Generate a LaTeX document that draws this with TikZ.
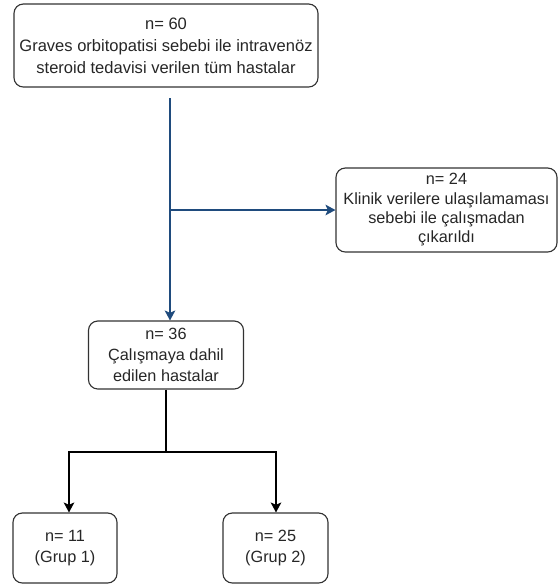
\documentclass[tikz,border=0pt]{standalone}
\usepackage{fontspec}
\setmainfont{Liberation Sans}
\usetikzlibrary{arrows.meta}
\definecolor{flowblue}{RGB}{31,75,125}
\definecolor{boxgray}{RGB}{50,50,50}
\begin{document}
\begin{tikzpicture}[x=0.75pt,y=-0.75pt,
  box/.style={draw=boxgray,line width=0.85pt,rounded corners=7pt,align=center,
    inner sep=0pt,font=\fontsize{12.2}{15.5}\selectfont,text=black!85},
  bluearrow/.style={draw=flowblue,line width=1pt,-{Stealth[width=8pt,length=7.5pt,inset=1.8pt]}},
  blackarrow/.style={draw=black,line width=0.9pt,-{Stealth[width=8pt,length=7.5pt,inset=1.8pt]}},
  blacklink/.style={draw=black,line width=0.9pt}]
\useasboundingbox (0,0) rectangle (558,587);
\node[box,minimum width=304*0.75pt,minimum height=83*0.75pt,font=\fontsize{12.4}{16.5}\selectfont] (top) at (166,45.5)
  {n= 60\\Graves orbitopatisi sebebi ile intravenöz\\steroid tedavisi verilen tüm hastalar};
\node[box,minimum width=221*0.75pt,minimum height=84*0.75pt,font=\fontsize{12.2}{14.5}\selectfont] (excl) at (446.5,210)
  {n= 24\\Klinik verilere ulaşılamaması\\sebebi ile çalışmadan\\çıkarıldı};
\node[box,minimum width=155*0.75pt,minimum height=68*0.75pt] (incl) at (166,355)
  {n= 36\\Çalışmaya dahil\\edilen hastalar};
\node[box,minimum width=104*0.75pt,minimum height=70*0.75pt] (g1) at (65,548)
  {n= 11\\(Grup 1)};
\node[box,minimum width=105*0.75pt,minimum height=70*0.75pt] (g2) at (275.5,548)
  {n= 25\\(Grup 2)};
\coordinate (s) at (170,98);
\coordinate (br) at (170,210);
\coordinate (sp) at (incl.south |- 0,452);
\draw[bluearrow] (s) -- (s |- incl.north);
\draw[bluearrow] (br) -- (excl.west |- br);
\draw[blacklink] (incl.south) -- (sp);
\draw[blackarrow] (sp) -| (g1.north -| 69,0);
\draw[blackarrow] (sp) -| (g2.north -| 276,0);
\end{tikzpicture}
\end{document}
